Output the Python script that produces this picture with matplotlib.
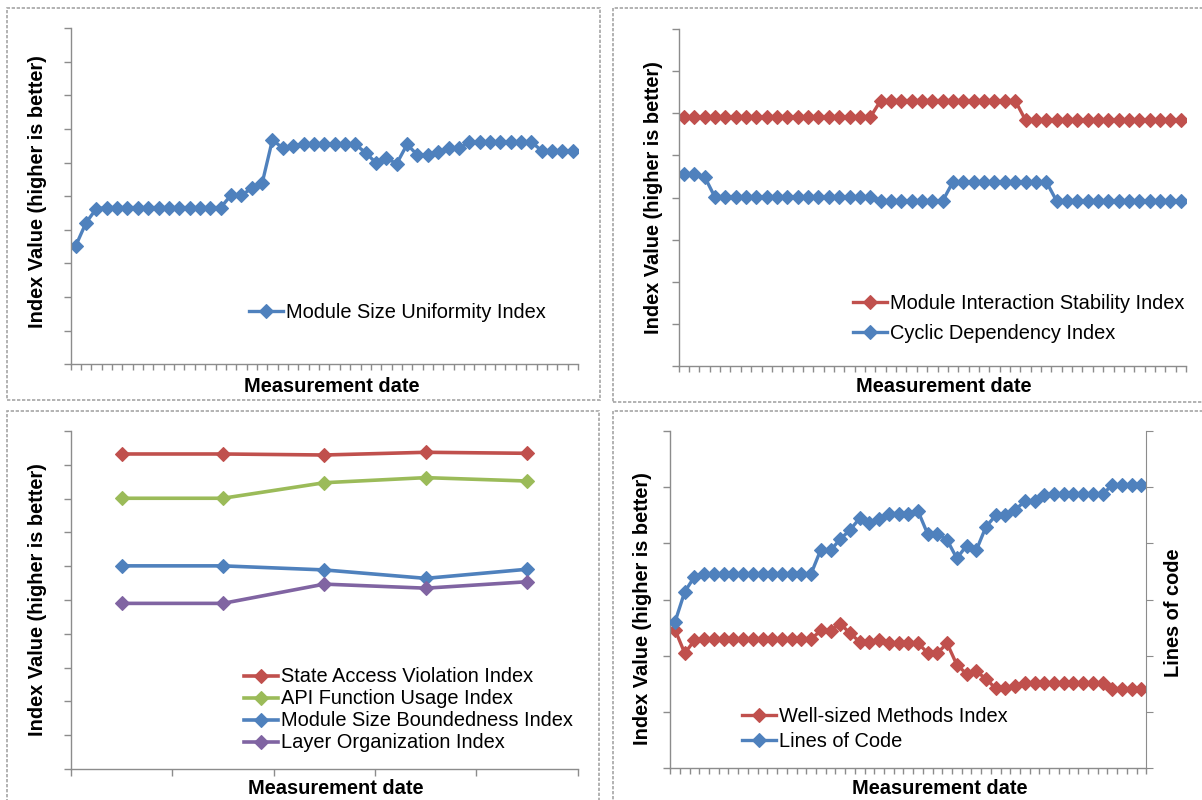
import matplotlib.pyplot as plt
import numpy as np
from matplotlib.patches import Rectangle

plt.rcParams['font.family'] = ['Liberation Sans', 'DejaVu Sans']

W, H = 1202, 800
BLUE = '#4F81BD'
RED = '#C0504D'
GREEN = '#9BBB59'
PURPLE = '#8064A2'
AXIS_GRAY = '#8c8c8c'
FS = 14.4

# ---- data (arbitrary index units) ----
n_dates = 49
dates = np.arange(n_dates)

size_uniformity = [0.352, 0.421, 0.463, 0.466, 0.466, 0.466, 0.466, 0.466, 0.466, 0.466,
                   0.466, 0.466, 0.466, 0.466, 0.466, 0.503, 0.503, 0.523, 0.538, 0.668,
                   0.642, 0.649, 0.654, 0.654, 0.654, 0.654, 0.654, 0.654, 0.629, 0.599,
                   0.612, 0.597, 0.654, 0.622, 0.622, 0.630, 0.642, 0.642, 0.660, 0.660,
                   0.660, 0.661, 0.661, 0.661, 0.661, 0.635, 0.635, 0.635, 0.635]

interaction_stability = [0.738, 0.738, 0.738, 0.738, 0.738, 0.738, 0.738, 0.738, 0.738, 0.738,
                         0.738, 0.738, 0.738, 0.738, 0.738, 0.738, 0.738, 0.738, 0.738, 0.788,
                         0.788, 0.788, 0.788, 0.788, 0.788, 0.788, 0.788, 0.788, 0.788, 0.788,
                         0.788, 0.788, 0.788, 0.730, 0.730, 0.730, 0.730, 0.730, 0.730, 0.730,
                         0.730, 0.730, 0.730, 0.730, 0.730, 0.730, 0.730, 0.730, 0.730]
cyclic_dependency = [0.569, 0.569, 0.562, 0.501, 0.501, 0.501, 0.501, 0.501, 0.501, 0.501,
                     0.501, 0.501, 0.501, 0.501, 0.501, 0.501, 0.501, 0.501, 0.501, 0.490,
                     0.490, 0.490, 0.490, 0.490, 0.490, 0.490, 0.547, 0.547, 0.547, 0.547,
                     0.547, 0.547, 0.547, 0.547, 0.547, 0.547, 0.490, 0.490, 0.490, 0.490,
                     0.490, 0.490, 0.490, 0.490, 0.490, 0.490, 0.490, 0.490, 0.490]

releases = np.arange(5)
state_access = [0.932, 0.932, 0.929, 0.937, 0.934]
api_usage = [0.801, 0.801, 0.847, 0.862, 0.852]
size_boundedness = [0.601, 0.601, 0.589, 0.564, 0.591]
layer_org = [0.490, 0.490, 0.547, 0.535, 0.554]

well_sized = [0.492, 0.409, 0.455, 0.459, 0.459, 0.459, 0.459, 0.459, 0.459, 0.459,
              0.459, 0.459, 0.459, 0.459, 0.459, 0.490, 0.489, 0.514, 0.480, 0.450,
              0.450, 0.456, 0.444, 0.444, 0.444, 0.445, 0.410, 0.410, 0.444, 0.368,
              0.336, 0.345, 0.318, 0.284, 0.284, 0.291, 0.303, 0.303, 0.303, 0.303,
              0.303, 0.303, 0.303, 0.303, 0.303, 0.281, 0.281, 0.281, 0.281]
lines_of_code = [26050, 31390, 34050, 34580, 34580, 34580, 34580, 34580, 34580, 34580,
                 34580, 34580, 34580, 34580, 34580, 38850, 38740, 40720, 42350, 44430,
                 43680, 44340, 45280, 45280, 45280, 45730, 41640, 41640, 40570, 37320,
                 39560, 38740, 42940, 44930, 44930, 45850, 47540, 47540, 48570, 48710,
                 48710, 48710, 48710, 48710, 48710, 50350, 50350, 50350, 50350]

fig = plt.figure(figsize=(W / 100, H / 100), dpi=100)


def px_axes(left, top, right, bottom):
    return fig.add_axes([left / W, 1 - bottom / H, (right - left) / W, (bottom - top) / H])


def frame(x0, y0, x1, y1):
    fig.add_artist(Rectangle((x0 / W, 1 - y1 / H), (x1 - x0) / W, (y1 - y0) / H,
                             transform=fig.transFigure, fill=False,
                             ec='#a6a6a6', lw=1.2, ls=(0, (2, 1))))


def style(ax, xticks, yticks):
    for s in ['top', 'right']:
        ax.spines[s].set_visible(False)
    for s in ['left', 'bottom']:
        ax.spines[s].set_color(AXIS_GRAY)
        ax.spines[s].set_linewidth(1)
    ax.set_xticks(xticks)
    ax.set_yticks(yticks)
    ax.tick_params(direction='out', color=AXIS_GRAY, width=1,
                   labelbottom=False, labelleft=False)
    ax.tick_params(axis='y', length=5)


def labels(ax, xl_px, yl_px, ax_box):
    left, top, right, bottom = ax_box
    ax.set_xlabel('Measurement date', fontsize=FS, fontweight='bold', va='center')
    ax.xaxis.set_label_coords((xl_px[0] - left) / (right - left),
                              (bottom - xl_px[1]) / (bottom - top))
    ax.set_ylabel('Index Value (higher is better)', fontsize=FS, fontweight='bold', va='center')
    ax.yaxis.set_label_coords((yl_px[0] - left) / (right - left),
                              (bottom - yl_px[1]) / (bottom - top))


def put_legend(ax, handles, names, x_px, y_px, spacing):
    ax.legend(handles, names, loc='center left', bbox_to_anchor=(x_px / W, 1 - y_px / H),
              bbox_transform=fig.transFigure, frameon=False, fontsize=FS,
              borderpad=0, borderaxespad=0, handlelength=1.7, handletextpad=0.15,
              labelspacing=spacing, numpoints=1)


line_kw = dict(lw=2.4, marker='D', ms=6.7, mew=0.8)

# panel frames
frame(7, 8, 600, 400)
frame(613, 8, 1215, 402)
frame(7, 411, 599, 815)
frame(613, 411, 1215, 815)

# ---- top left ----
box1 = (70.5, 28, 578, 364.3)
ax1 = px_axes(*box1)
l1, = ax1.plot(dates, size_uniformity, color=BLUE, **line_kw)
ax1.set_xlim(-0.5, n_dates - 0.5)
ax1.set_ylim(0, 1)
style(ax1, np.arange(-0.5, n_dates), np.arange(0, 1.01, 0.1))
ax1.tick_params(axis='x', length=4)
labels(ax1, (332, 386), (38, 192), box1)
put_legend(ax1, [l1], ['Module Size Uniformity Index'], 248.8, 312, 0.4)

# ---- top right ----
box2 = (678.7, 29.3, 1186, 365.7)
ax2 = px_axes(*box2)
l2a, = ax2.plot(dates, interaction_stability, color=RED, **line_kw)
l2b, = ax2.plot(dates, cyclic_dependency, color=BLUE, **line_kw)
ax2.set_xlim(-0.5, n_dates - 0.5)
ax2.set_ylim(0, 1)
style(ax2, np.arange(-0.5, n_dates), np.arange(0, 1.01, 0.125))
ax2.tick_params(axis='x', length=4)
labels(ax2, (943.6, 386.7), (653.7, 198), box2)
put_legend(ax2, [l2a, l2b], ['Module Interaction Stability Index', 'Cyclic Dependency Index'],
           852.6, 318.5, 0.55)

# ---- bottom left ----
box3 = (70.8, 431, 577.9, 769)
ax3 = px_axes(*box3)
kw3 = dict(lw=2.6, marker='D', ms=7.4, mew=0.8)
h3 = []
for vals, c in [(state_access, RED), (api_usage, GREEN),
                (size_boundedness, BLUE), (layer_org, PURPLE)]:
    h, = ax3.plot(releases, vals, color=c, **kw3)
    h3.append(h)
ax3.set_xlim(-0.5, 4.5)
ax3.set_ylim(0, 1)
style(ax3, np.arange(-0.5, 5), np.arange(0, 1.01, 0.1))
ax3.tick_params(axis='x', length=5)
labels(ax3, (336, 788), (38, 600), box3)
put_legend(ax3, h3, ['State Access Violation Index', 'API Function Usage Index',
                     'Module Size Boundedness Index', 'Layer Organization Index'],
           243.8, 710, 0.15)

# ---- bottom right ----
box4 = (670.2, 430.7, 1146.3, 768.3)
ax4 = px_axes(*box4)
l4a, = ax4.plot(dates, well_sized, color=RED, **line_kw)
ax4.set_xlim(-0.5, n_dates - 0.5)
ax4.set_ylim(0, 1.2)
style(ax4, np.arange(-0.5, n_dates), np.arange(0, 1.21, 0.2))
ax4.tick_params(axis='x', length=4)
labels(ax4, (940, 788), (642, 609), box4)

ax4r = ax4.twinx()
l4b, = ax4r.plot(dates, lines_of_code, color=BLUE, **line_kw)
ax4r.set_ylim(0, 60000)
ax4r.set_yticks(np.arange(0, 60001, 10000))
for s in ['top', 'left', 'bottom']:
    ax4r.spines[s].set_visible(False)
ax4r.spines['right'].set_color(AXIS_GRAY)
ax4r.tick_params(direction='out', length=5, color=AXIS_GRAY, labelright=False)
ax4r.set_ylabel('Lines of code', fontsize=FS, fontweight='bold', va='center')
ax4r.yaxis.set_label_coords((1174 - box4[0]) / (box4[2] - box4[0]),
                            (box4[3] - 612.5) / (box4[3] - box4[1]))
put_legend(ax4r, [l4a, l4b], ['Well-sized Methods Index', 'Lines of Code'], 742, 729, 0.33)

fig.savefig('out.png', dpi=100)
